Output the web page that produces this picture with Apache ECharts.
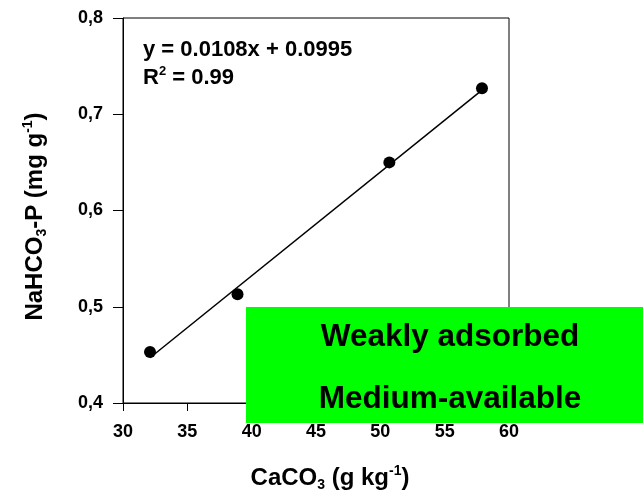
<!DOCTYPE html>
<html><head><meta charset="utf-8">
<script src="https://cdn.jsdelivr.net/npm/echarts@6/dist/echarts.min.js"></script>
<style>html,body{margin:0;padding:0;background:#fff}#c{width:643px;height:499px}</style>
</head><body><div id="c"></div>
<script>
const caco3 = [32.1, 38.9, 50.7, 57.9];
const nahco3p = [0.453, 0.513, 0.650, 0.727];
const fitX = [32.1, 57.9];
const fitY = [0.447, 0.725];
const xTicks = [30, 35, 40, 45, 50, 55, 60];
const yTicks = [0.4, 0.5, 0.6, 0.7, 0.8];
const equation = 'y = 0.0108x + 0.0995';
const r2 = '0.99';
const boxLines = ['Weakly adsorbed', 'Medium-available'];

const F = 'Liberation Sans, Arial, sans-serif';
const chart = echarts.init(document.getElementById('c'));
const W = chart.getWidth(), H = chart.getHeight();
chart.setOption({
  animation: false,
  grid: {left: 123, top: 18, right: W - 509, bottom: H - 403, show: true, borderColor: '#000', borderWidth: 1},
  xAxis: {
    type: 'value', min: xTicks[0], max: xTicks[xTicks.length-1], interval: 5,
    axisLine: {show: true, onZero: false, lineStyle: {color: '#000', width: 1}},
    axisTick: {show: true, inside: false, length: 8, lineStyle: {color: '#000'}},
    splitLine: {show: false},
    axisLabel: {margin: 20, color: '#000', fontFamily: F, fontWeight: 'bold', fontSize: 18},
    name: '{b|CaCO}{s|3}{b| (g kg}{p|-1}{b|)}',
    nameLocation: 'middle', nameGap: 61,
    nameTextStyle: {padding: [0, 0, 0, 28], rich: {
      b: {fontFamily: F, fontWeight: 'bold', fontSize: 24, color: '#000', lineHeight: 28},
      s: {fontFamily: F, fontWeight: 'bold', fontSize: 14, color: '#000', lineHeight: 28, verticalAlign: 'bottom', padding: [14,0,0,0]},
      p: {fontFamily: F, fontWeight: 'bold', fontSize: 14, color: '#000', lineHeight: 28, verticalAlign: 'top', padding: [0,0,12,0]}
    }}
  },
  yAxis: {
    type: 'value', min: yTicks[0], max: yTicks[yTicks.length-1], interval: 0.1,
    axisLine: {show: true, onZero: false, lineStyle: {color: '#000', width: 1}},
    axisTick: {show: true, inside: false, length: 10, lineStyle: {color: '#000'}},
    splitLine: {show: false},
    axisLabel: {margin: 20, color: '#000', fontFamily: F, fontWeight: 'bold', fontSize: 18,
      formatter: v => v.toFixed(1).replace('.', ',')},
    name: '{b|NaHCO}{s|3}{b|-P (mg g}{p|-1}{b|)}',
    nameLocation: 'middle', nameGap: 74, nameRotate: 90,
    nameTextStyle: {padding: [0, 12, 0, 0], rich: {
      b: {fontFamily: F, fontWeight: 'bold', fontSize: 24, color: '#000', lineHeight: 28},
      s: {fontFamily: F, fontWeight: 'bold', fontSize: 14, color: '#000', lineHeight: 28, verticalAlign: 'bottom', padding: [14,0,0,0]},
      p: {fontFamily: F, fontWeight: 'bold', fontSize: 14, color: '#000', lineHeight: 28, verticalAlign: 'top', padding: [0,0,12,0]}
    }}
  },
  series: [
    {type: 'line', data: fitX.map((x, i) => [x, fitY[i]]), symbol: 'none',
     lineStyle: {color: '#000', width: 1.5}, z: 2},
    {type: 'scatter', data: caco3.map((x, i) => [x, nahco3p[i]]), symbolSize: 12,
     itemStyle: {color: '#000', opacity: 1}, z: 3}
  ],
  graphic: [
    {type: 'text', x: 143, y: 50, z: 10,
     style: {text: equation, fontFamily: F, fontWeight: 'bold', fontSize: 22, fill: '#000', verticalAlign: 'middle'}},
    {type: 'text', x: 143, y: 78, z: 10,
     style: {text: '{b|R}{p|2}{b| = ' + r2 + '}', verticalAlign: 'middle', rich: {
       b: {fontFamily: F, fontWeight: 'bold', fontSize: 22, fill: '#000', lineHeight: 26},
       p: {fontFamily: F, fontWeight: 'bold', fontSize: 13, fill: '#000', lineHeight: 26, verticalAlign: 'top', padding: [0,0,10,0]}
     }}},
    {type: 'rect', shape: {x: 246, y: 307, width: 397, height: 116}, style: {fill: '#00ff00'}, z: 20},
    {type: 'text', x: 450, y: 337, z: 21,
     style: {text: boxLines[0], fontFamily: F, fontWeight: 'bold', fontSize: 31.5, fill: '#000', align: 'center', verticalAlign: 'middle'}},
    {type: 'text', x: 450, y: 399, z: 21,
     style: {text: boxLines[1], fontFamily: F, fontWeight: 'bold', fontSize: 31.5, fill: '#000', align: 'center', verticalAlign: 'middle'}}
  ]
});
</script></body></html>
